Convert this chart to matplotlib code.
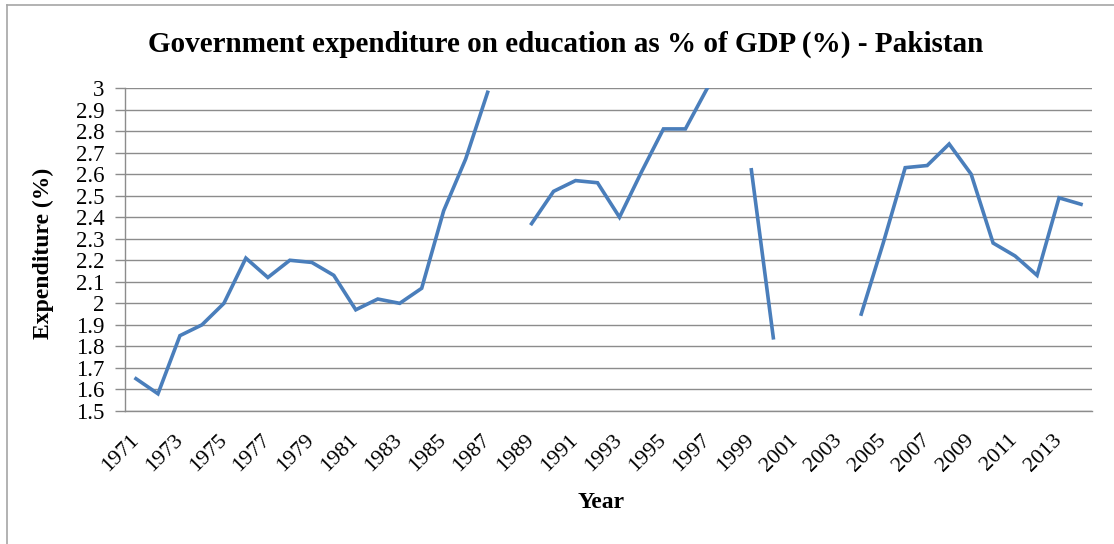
import matplotlib
matplotlib.use("Agg")
import matplotlib.pyplot as plt
import numpy as np
from matplotlib.lines import Line2D


YEARS = list(range(1971, 2015))
EXPENDITURE = [
    1.65, 1.58, 1.85, 1.90, 2.00, 2.21, 2.12, 2.20, 2.19, 2.13,
    1.97, 2.02, 2.00, 2.07, 2.43, 2.67, 2.98, np.nan, 2.37, 2.52,
    2.57, 2.56, 2.40, 2.61, 2.81, 2.81, 3.00, np.nan, 2.62, 1.84,
    np.nan, np.nan, np.nan, 1.95, 2.28, 2.63, 2.64, 2.74, 2.60, 2.28,
    2.22, 2.13, 2.49, 2.46,
]
Y_TICKS = [1.5, 1.6, 1.7, 1.8, 1.9, 2.0, 2.1, 2.2, 2.3, 2.4, 2.5, 2.6, 2.7, 2.8, 2.9, 3.0]

TITLE = "Government expenditure on education as % of GDP (%) - Pakistan"
LINE_COLOR = "#4a7ebb"
GRID_COLOR = "#8c8c8c"
SERIF = ["Liberation Serif", "DejaVu Serif"]
W, H = 1114, 544


def main() -> None:
    plt.rcParams["font.family"] = SERIF
    fig = plt.figure(figsize=(W / 100, H / 100), dpi=100)
    axis = fig.add_axes([125 / W, 1 - 411 / H, 967 / W, 323 / H])

    positions = np.arange(len(YEARS))
    axis.plot(positions, EXPENDITURE, color=LINE_COLOR, linewidth=2.6, solid_joinstyle="miter")

    axis.set_xlim(-0.5, len(YEARS) - 0.5)
    axis.set_ylim(1.5, 3.0)
    axis.set_yticks(Y_TICKS)
    axis.set_yticklabels([f"{value:g}" for value in Y_TICKS], fontsize=16.5)
    axis.set_xticks(positions[::2])
    axis.set_xticklabels([str(year) for year in YEARS[::2]], fontsize=16, rotation=45,
                         ha="right", va="center", rotation_mode="anchor")
    axis.tick_params(axis="x", length=0, pad=19)
    axis.tick_params(axis="y", length=7, width=1.0, color=GRID_COLOR, pad=8)

    axis.grid(True, axis="y", color=GRID_COLOR, linewidth=1.0)
    axis.set_axisbelow(True)
    for side in ["top", "right"]:
        axis.spines[side].set_visible(False)
    for side in ["left", "bottom"]:
        axis.spines[side].set_color(GRID_COLOR)
        axis.spines[side].set_linewidth(1.0)

    fig.text(566 / W, 1 - 44 / H, TITLE, ha="center", va="center", fontsize=21, fontweight="bold")
    fig.text(601 / W, 1 - 503 / H, "Year", ha="center", va="center", fontsize=17, fontweight="bold")
    fig.text(43 / W, 1 - 253 / H, "Expenditure (%)", ha="center", va="center", rotation=90,
             fontsize=17, fontweight="bold")

    border_color = "#a6a6a6"
    fig.add_artist(Line2D([7 / W, 1], [1 - 5 / H, 1 - 5 / H], transform=fig.transFigure,
                          color=border_color, linewidth=1.2))
    fig.add_artist(Line2D([7 / W, 7 / W], [0, 1 - 5 / H], transform=fig.transFigure,
                          color=border_color, linewidth=1.2))

    fig.savefig("out.png", dpi=100)
    plt.close(fig)


if __name__ == "__main__":
    main()
